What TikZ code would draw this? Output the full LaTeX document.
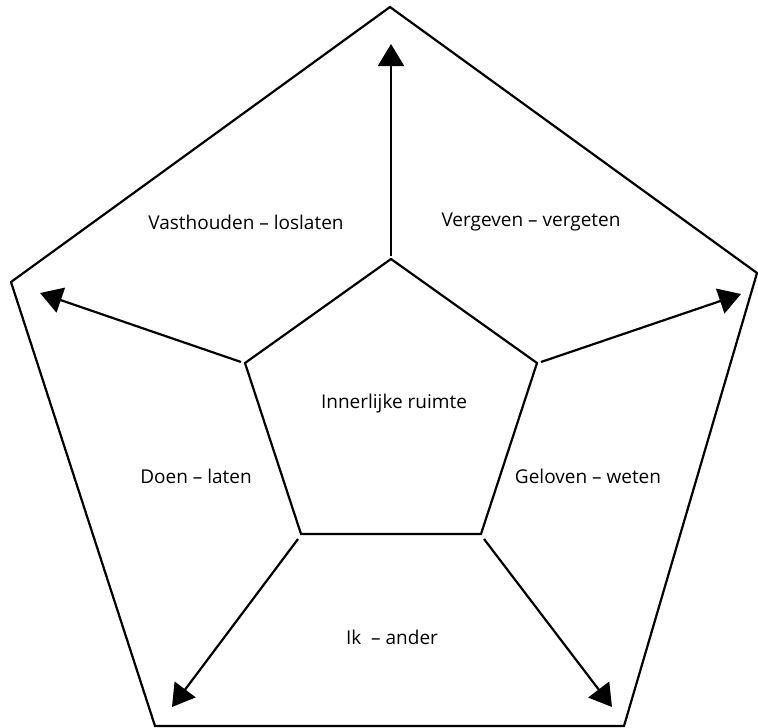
\documentclass[tikz,border=0pt]{standalone}
\usepackage{fontspec}
\setmainfont{Open Sans}
\usetikzlibrary{arrows.meta}
\begin{document}
\begin{tikzpicture}[x=1pt,y=-1pt,
  edge/.style={line width=2.2pt, line join=miter},
  arr/.style={line width=2.2pt, -{Triangle[length=22pt,width=26pt]}},
  lbl/.style={font=\fontsize{19}{22}\selectfont, inner sep=0pt}]
\useasboundingbox (0,0) rectangle (758,728);
% outer pentagon
\coordinate (O1) at (390,7);
\coordinate (O2) at (757,273);
\coordinate (O3) at (624,726);
\coordinate (O4) at (155,726);
\coordinate (O5) at (11,282);
\draw[edge] (O1) -- (O2) -- (O3) -- (O4) -- (O5) -- cycle;
% inner pentagon
\coordinate (I1) at (391,259);
\coordinate (I2) at (537,363);
\coordinate (I3) at (481,534);
\coordinate (I4) at (301,534);
\coordinate (I5) at (245,363);
\draw[edge] (I1) -- (I2) -- (I3) -- (I4) -- (I5) -- cycle;
% arrow starts and tips
\coordinate (S1) at (391,256);
\coordinate (T1) at (391,44);
\coordinate (S2) at (541,362);
\coordinate (T2) at (741,294);
\coordinate (S3) at (484,539);
\coordinate (T3) at (612,707);
\coordinate (S4) at (298,539);
\coordinate (T4) at (172,707);
\coordinate (S5) at (241,362);
\coordinate (T5) at (40,293);
\draw[arr] (S1) -- (T1);
\draw[arr] (S2) -- (T2);
\draw[arr] (S3) -- (T3);
\draw[arr] (S4) -- (T4);
\draw[arr] (S5) -- (T5);
% labels
\node[lbl] (center) at (394,404) {Innerlijke ruimte};
\node[lbl] (vv) at (531,222) {Vergeven – vergeten};
\node[lbl] (vl) at (246,222) {Vasthouden – loslaten};
\node[lbl] (dl) at (196,476) {Doen – laten};
\node[lbl] (gw) at (588,476) {Geloven – weten};
\node[lbl] (ia) at (392,637) {Ik \ – ander};
\end{tikzpicture}
\end{document}
